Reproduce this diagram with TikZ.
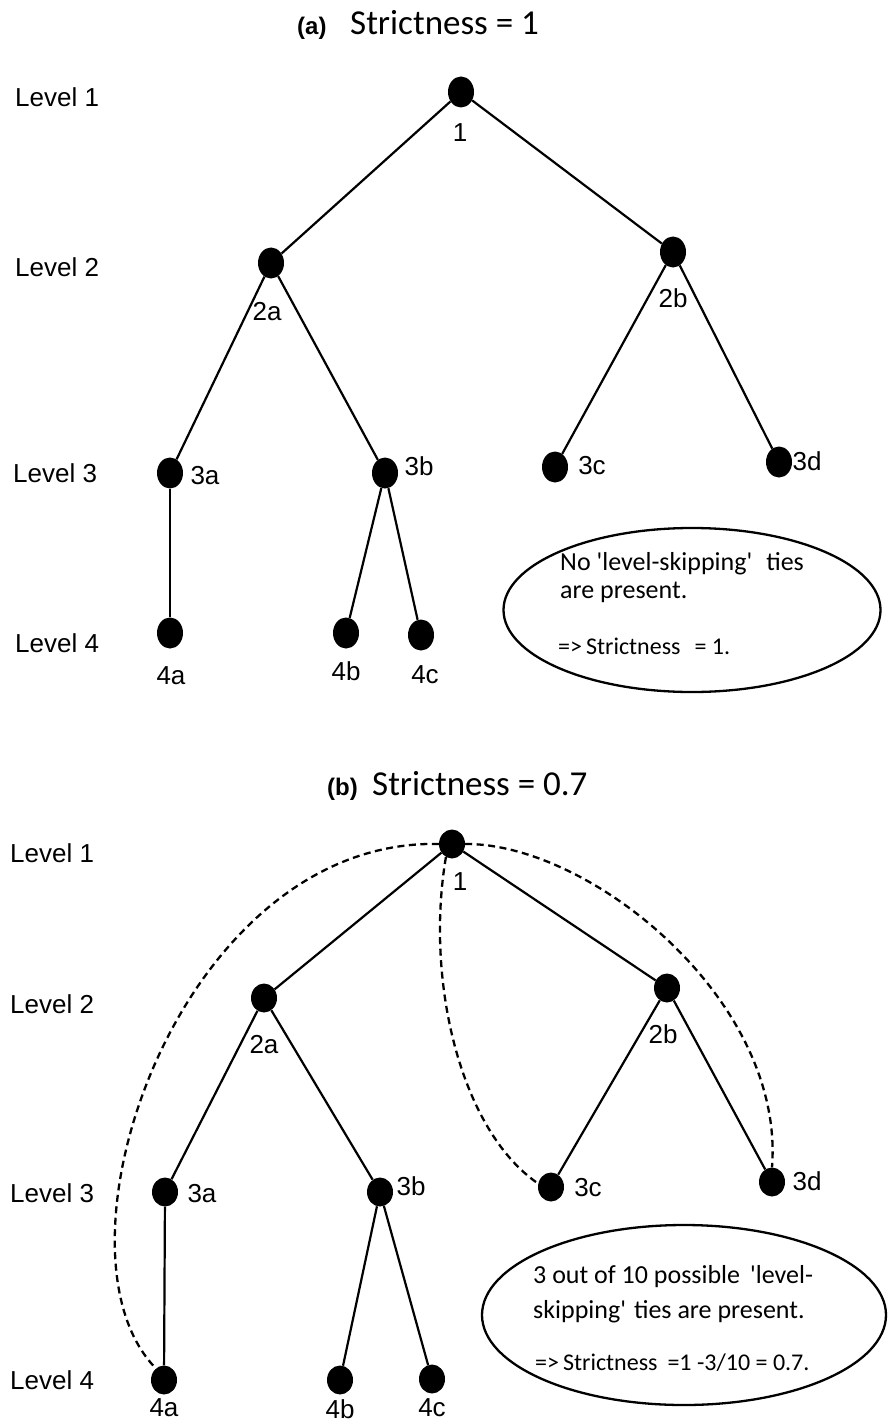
\documentclass[tikz,border=0pt]{standalone}
\usepackage{fontspec}
\setmainfont{Liberation Sans}
\newfontfamily\calib{Carlito}
\usetikzlibrary{shapes.geometric}
\begin{document}
\begin{tikzpicture}[x=1pt,y=-1pt,
  dot/.style={ellipse,fill=black,draw=none,inner sep=0pt,minimum width=26pt,minimum height=31pt},
  dotb/.style={dot,minimum height=29pt},
  tie/.style={line width=2.2pt},
  skip/.style={line width=2.3pt,dash pattern=on 7pt off 4.5pt},
  lvl/.style={anchor=west,inner sep=0pt,font=\fontsize{26}{30}\selectfont},
  lab/.style={inner sep=0pt,font=\fontsize{26}{30}\selectfont},
  tag/.style={anchor=base west,inner sep=0pt,font=\bfseries\fontsize{24}{28}\selectfont},
  head/.style={anchor=base west,inner sep=0pt,font=\calib\fontsize{35}{40}\selectfont},
  note/.style={anchor=base west,inner sep=0pt,font=\calib\fontsize{26}{30}\selectfont},
  bubble/.style={ellipse,draw,line width=2.3pt,inner sep=0pt},
]
\useasboundingbox (0,0) rectangle (888,1423);

% ---------------- (a) strict hierarchy ----------------
\node[tag]  (ta)  at (297,35) {(a)};
\node[head] (tah) at (350,35) {Strictness = 1};

\node[lvl] (al1) at (15,97)  {Level 1};
\node[lvl] (al2) at (15,267) {Level 2};
\node[lvl] (al3) at (13,473) {Level 3};
\node[lvl] (al4) at (15,643) {Level 4};

\node[dot] (a1)  at (461,92)  {};
\node[dot] (a2a) at (271,263) {};
\node[dot] (a2b) at (673,252) {};
\node[dot] (a3a) at (170,473) {};
\node[dot] (a3b) at (385,473) {};
\node[dot] (a3c) at (555,467) {};
\node[dot] (a3d) at (779,462) {};
\node[dot] (a4a) at (170,633) {};
\node[dot] (a4b) at (346,633) {};
\node[dot] (a4c) at (421,635) {};

\node[lab] (xa1)  at (460,133) {1};
\node[lab] (xa2a) at (267,312) {2a};
\node[lab] (xa2b) at (673,298) {2b};
\node[lab] (xa3a) at (205,476) {3a};
\node[lab] (xa3b) at (419,466) {3b};
\node[lab] (xa3c) at (592,466) {3c};
\node[lab] (xa3d) at (807,461) {3d};
\node[lab] (xa4a) at (171,676) {4a};
\node[lab] (xa4b) at (346,671) {4b};
\node[lab] (xa4c) at (425,675) {4c};

\draw[tie] (a1) -- (a2a);
\draw[tie] (a1) -- (a2b);
\draw[tie] (a2a) -- (a3a);
\draw[tie] (a2a) -- (a3b);
\draw[tie] (a2b) -- (a3c);
\draw[tie] (a2b) -- (a3d);
\draw[tie] (a3a) -- (a4a);
\draw[tie] (a3b) -- (a4b);
\draw[tie] (a3b) -- (a4c);

\node[bubble,minimum width=377pt,minimum height=164pt] (ea) at (692,610) {};
\node[note] (na1) at (560,570) {No \textquotesingle level-skipping\textquotesingle\hspace{14pt}ties};
\node[note] (na2) at (560,598) {are present.};
\node[note,font=\calib\fontsize{24}{28}\selectfont] (na3) at (558,654) {=>\,Strictness\hspace{14pt}= 1.};

% ---------------- (b) level-skipping ties ----------------
\node[tag]  (tb)  at (327,795) {(b)};
\node[head] (tbh) at (372,795) {Strictness = 0.7};

\node[lvl] (bl1) at (10,853)  {Level 1};
\node[lvl] (bl2) at (10,1004) {Level 2};
\node[lvl] (bl3) at (10,1193) {Level 3};
\node[lvl] (bl4) at (10,1380) {Level 4};

\node[dotb] (b1)  at (452,844)  {};
\node[dotb] (b2a) at (264,998)  {};
\node[dotb] (b2b) at (667,988)  {};
\node[dotb] (b3a) at (165,1192) {};
\node[dotb] (b3b) at (380,1192) {};
\node[dotb] (b3c) at (551,1187) {};
\node[dotb] (b3d) at (772,1182) {};
\node[dotb] (b4a) at (164,1380) {};
\node[dotb] (b4b) at (340,1380) {};
\node[dotb] (b4c) at (432,1379) {};

\node[lab] (xb1)  at (460,882)  {1};
\node[lab] (xb2a) at (264,1045) {2a};
\node[lab] (xb2b) at (663,1034) {2b};
\node[lab] (xb3a) at (202,1194) {3a};
\node[lab] (xb3b) at (411,1186) {3b};
\node[lab] (xb3c) at (588,1188) {3c};
\node[lab] (xb3d) at (807,1181) {3d};
\node[lab] (xb4a) at (164,1408) {4a};
\node[lab] (xb4b) at (340,1409) {4b};
\node[lab] (xb4c) at (432,1408) {4c};

\draw[tie] (b1) -- (b2a);
\draw[tie] (b1) -- (b2b);
\draw[tie] (b2a) -- (b3a);
\draw[tie] (b2a) -- (b3b);
\draw[tie] (b2b) -- (b3c);
\draw[tie] (b2b) -- (b3d);
\draw[tie] (b3a) -- (b4a);
\draw[tie] (b3b) -- (b4b);
\draw[tie] (b3b) -- (b4c);

% level-skipping ties
\draw[skip] (b1.west) .. controls (180,838) and (40,1250) .. (b4a.125);
\draw[skip] (b1.245) .. controls (425,980) and (460,1130) .. (b3c.165);
\draw[skip] (b1.east) .. controls (590,843) and (785,1000) .. (b3d.north);

\node[bubble,minimum width=404pt,minimum height=180pt] (eb) at (684,1315) {};
\node[note] (nb1) at (533,1283) {3 out of 10 possible\hspace{10pt}\textquotesingle level-};
\node[note] (nb2) at (533,1318) {skipping\textquotesingle\hspace{8pt}ties are present.};
\node[note,font=\calib\fontsize{24}{28}\selectfont] (nb3) at (535,1370) {=>\,Strictness\hspace{10pt}=1 -3/10 = 0.7.};
\end{tikzpicture}
\end{document}
